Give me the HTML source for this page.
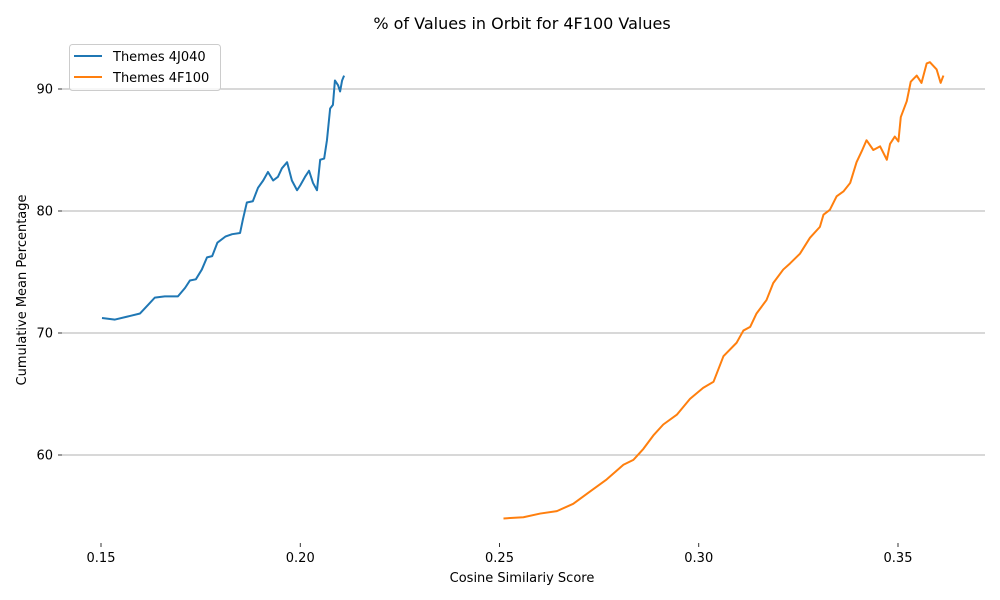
<!DOCTYPE html>
<html><head><meta charset="utf-8"><style>
html,body{margin:0;padding:0;background:#fff;}
svg{display:block;font-family:"DejaVu Sans","Liberation Sans",sans-serif;}
</style></head><body>
<svg id="chart" width="1000" height="600" viewBox="0 0 1000 600">
<text x="522" y="29" text-anchor="middle" font-size="16">% of Values in Orbit for 4F100 Values</text>
<g id="grid"></g>
<g id="xticks"></g>
<g id="yticks"></g>
<g id="lines"></g>
<text x="522" y="582" text-anchor="middle" font-size="13">Cosine Similariy Score</text>
<text x="26" y="290" text-anchor="middle" font-size="13" transform="rotate(-90 26 290)">Cumulative Mean Percentage</text>
<g>
<rect x="69.5" y="44.5" width="151" height="46" rx="3" fill="#fff" fill-opacity="0.8" stroke="#ccc"/>
<g>
<line x1="74" y1="56" x2="102" y2="56" stroke="#1f77b4" stroke-width="2"/>
<text x="113" y="61" font-size="13">Themes 4J040</text></g>
<g>
<line x1="74" y1="77" x2="102" y2="77" stroke="#ff7f0e" stroke-width="2"/>
<text x="113" y="82" font-size="13">Themes 4F100</text></g>
</g>
</svg>
<script>
const xTicks=[0.15,0.20,0.25,0.30,0.35];
const xTickLabels=["0.15","0.20","0.25","0.30","0.35"];
const yTicks=[60,70,80,90];
const yTickLabels=["60","70","80","90"];
const blueX=[0.15025,0.1535,0.1573,0.1598,0.1618,0.1635,0.1660,0.1678,0.1693,0.1711,0.1723,0.1738,0.1753,0.1766,0.1779,0.1792,0.1812,0.1829,0.1849,0.1856,0.1866,0.1881,0.1894,0.1907,0.1919,0.1932,0.1944,0.1954,0.1967,0.1979,0.1992,0.2,0.2012,0.2022,0.2032,0.2042,0.205,0.206,0.2067,0.2075,0.2082,0.2087,0.2095,0.21,0.2105,0.211];
const blueY=[71.23,71.1,71.4,71.6,72.3,72.9,73.0,73.0,73.0,73.7,74.3,74.4,75.2,76.2,76.3,77.4,77.9,78.1,78.2,79.3,80.7,80.8,81.9,82.5,83.2,82.5,82.8,83.5,84.0,82.5,81.7,82.1,82.8,83.3,82.3,81.7,84.2,84.3,85.8,88.4,88.7,90.7,90.3,89.8,90.7,91.1];
const orangeX=[0.2510,0.2560,0.2602,0.2644,0.2685,0.2727,0.2769,0.2811,0.2836,0.2861,0.2886,0.2911,0.2945,0.2978,0.3011,0.3037,0.3062,0.3095,0.3112,0.3129,0.3145,0.3170,0.3187,0.3212,0.3229,0.3254,0.3279,0.3304,0.3313,0.3329,0.3346,0.3363,0.3380,0.3396,0.3409,0.3421,0.3438,0.3455,0.3472,0.3480,0.3492,0.3501,0.3507,0.3522,0.3532,0.3547,0.3559,0.3572,0.3580,0.3597,0.3607,0.3614];
const orangeY=[54.8,54.9,55.2,55.4,56.0,57.0,58.0,59.2,59.6,60.5,61.6,62.5,63.3,64.6,65.5,66.0,68.1,69.2,70.2,70.5,71.6,72.7,74.1,75.2,75.7,76.5,77.8,78.7,79.7,80.1,81.2,81.6,82.3,84.0,84.9,85.8,85.0,85.3,84.2,85.5,86.1,85.7,87.7,89.0,90.6,91.1,90.5,92.1,92.2,91.6,90.5,91.1];
const sx=v=>101+(v-0.15)*3985;
const sy=v=>89+(90-v)*12.2;
const NS="http://www.w3.org/2000/svg";
function mk(tag,attrs,parent){const e=document.createElementNS(NS,tag);for(const k in attrs)e.setAttribute(k,attrs[k]);parent.appendChild(e);return e;}
const grid=document.getElementById('grid'),xt=document.getElementById('xticks'),yt=document.getElementById('yticks'),lines=document.getElementById('lines');
yTicks.forEach((v,i)=>{
  const g=mk('line',{x1:62,x2:985,y1:sy(v),y2:sy(v),stroke:'#b0b0b0','stroke-width':1},grid);
  
  
  mk('line',{x1:58,x2:62,y1:sy(v),y2:sy(v),stroke:'#000','stroke-width':0.8},yt);
  const t=mk('text',{x:53,y:sy(v)+4.5,'text-anchor':'end','font-size':13},yt);
  t.textContent=yTickLabels[i];
  
  
});
xTicks.forEach((v,i)=>{
  mk('line',{x1:sx(v),x2:sx(v),y1:543,y2:547,stroke:'#000','stroke-width':0.8},xt);
  const t=mk('text',{x:sx(v),y:562,'text-anchor':'middle','font-size':13},xt);
  t.textContent=xTickLabels[i];
  
  
});
function series(xs,ys,color,name){
  const p=mk('polyline',{points:xs.map((x,i)=>sx(x)+','+sy(ys[i])).join(' '),fill:'none',stroke:color,'stroke-width':2,'stroke-linejoin':'round'},lines);
  
  
}
series(blueX,blueY,'#1f77b4','line-4j040');
series(orangeX,orangeY,'#ff7f0e','line-4f100');
</script>
</body></html>
